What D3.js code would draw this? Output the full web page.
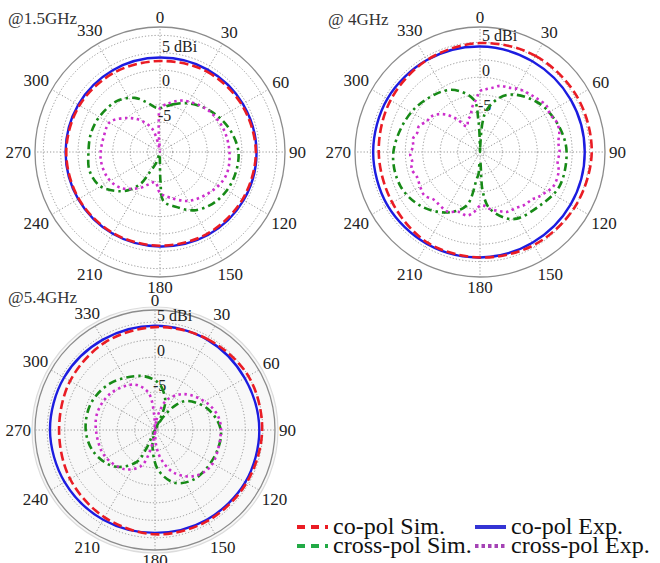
<!DOCTYPE html>
<html>
<head>
<meta charset="utf-8">
<script src="https://cdn.jsdelivr.net/npm/d3@7"></script>
<style>
  body { margin: 0; background: #fff; }
  svg { display: block; }
</style>
</head>
<body>
<svg id="chart" width="660" height="563"></svg>
<script>
// radiation patterns, angle in degrees (clockwise from top), gain in dBi

const angleTicks = [0, 30, 60, 90, 120, 150, 180, 210, 240, 270, 300, 330];
const gainLabels = [-5, 0, 5];
const coAngles   = [0, 30, 60, 90, 120, 150, 180, 210, 240, 270, 300, 330];

// ---- 1.5 GHz ----
const co15Sim = [3.8, 4.1, 4.3, 4.5, 4.4, 4.3, 4.2, 4.2, 4.2, 4.2, 4.1, 3.9];
const co15Exp = [4.3, 4.4, 4.5, 4.6, 4.6, 4.5, 4.3, 4.3, 4.3, 4.3, 4.3, 4.3];
const cross15Sim = [[0,-3.0],[15,-2.2],[30,-1.2],[45,-0.3],[60,0.6],[75,1.4],[90,2.0],[105,2.0],
  [120,1.8],[135,1.3],[150,0.4],[163,-1.0],[176,-2.2],[179,-5.0],[182,-8.6],[190,-9.0],[200,-7.5],
  [207,-6.0],[211,-4.0],[218,-2.5],[225,-1.3],[240,0.6],[255,1.2],[270,1.0],[285,1.0],[300,0.8],
  [320,0.3],[335,-0.7],[345,-1.9],[355,-2.9]];
const cross15Exp = [[0,-3.0],[10,-2.2],[24,-1.2],[47,-0.2],[69,0.4],[90,0.7],[109,0.8],[126,0.1],
  [149,-1.1],[168,-2.6],[180,-3.4],[189,-4.9],[200,-4.3],[209,-3.4],[228,-1.6],[244,-0.9],
  [264,-0.7],[287,-0.9],[301,-0.9],[316,-2.5],[328,-3.9],[341,-5.7],[348,-8.0],[352,-9.2],
  [356,-7.0],[358,-4.5]];

// ---- 4 GHz ----
const co4Sim = [4.9, 5.2, 5.3, 5.3, 5.0, 4.7, 4.4, 4.3, 3.8, 3.8, 4.1, 4.5];
const co4Exp = [4.4, 4.3, 4.3, 4.3, 4.3, 4.3, 4.4, 4.5, 4.6, 4.6, 4.6, 4.5];
const cross4Sim = [[0,-12],[2,-10],[5,-6.4],[9,-4.6],[20,-2.4],[30,-1.2],[45,-0.1],[57,0.6],
  [75,1.3],[90,1.7],[113,1.7],[132,0.8],[154,0.0],[170,-2.4],[176,-5.0],[179,-9.3],[181,-9.3],
  [184,-7.5],[187,-6.8],[194,-2.8],[209,-0.8],[228,0.8],[247,1.7],[270,1.7],[302,0.6],
  [334,-0.8],[353,-3.1],[357,-6.0],[359,-10]];
const cross4Exp = [[0,-2.0],[5,-1.7],[10,-1.4],[17,-0.8],[24,-0.6],[32,-0.1],[40,0.2],[47,0.5],
  [55,0.9],[62,0.7],[69,1.1],[76,1.0],[83,0.6],[90,0.7],[97,0.5],[104,0.9],[115,0.9],[122,0.3],
  [128,-0.2],[132,-0.6],[140,-0.8],[148,-1.2],[156,-1.3],[163,-1.9],[170,-2.4],[176,-3.0],
  [180,-3.0],[186,-2.0],[192,-1.4],[200,-1.6],[208,-1.0],[216,-1.1],[224,-1.2],[232,-0.6],
  [240,-0.8],[248,-1.0],[256,-0.6],[262,-0.9],[268,-0.7],[275,-1.1],[281,-0.9],[287,-1.3],
  [293,-1.2],[300,-1.9],[305,-2.0],[311,-2.5],[318,-3.5],[325,-5.0],[333,-6.6],[340,-5.7],
  [345,-5.4],[350,-4.2],[356,-3.1]];

// ---- 5.4 GHz ----
const co54Sim = [4.3, 4.6, 5.0, 4.9, 4.7, 4.6, 4.5, 4.0, 3.6, 3.3, 3.6, 4.0];
const co54Exp = [4.5, 4.5, 4.4, 4.5, 4.5, 4.4, 4.3, 4.4, 4.5, 4.6, 4.6, 4.5];
const cross54Sim = [[0,-3.3],[8,-4.1],[20,-6.1],[25,-8.7],[28,-11],[32,-8.3],[40,-5.7],[48,-4.2],
  [68,-2.3],[90,-1.0],[114,-1.1],[141,-1.4],[160,-2.4],[176,-4.8],[190,-8.3],[198,-11],
  [205,-7.5],[210,-5.1],[228,-2.6],[250,-1.1],[270,-0.5],[293,-0.5],[317,-1.2],[345,-2.4]];
const cross54Exp = [[2,-11],[8,-9],[15,-7.3],[22,-5.7],[39,-3.8],[63,-2.0],[80,-1.1],[96,-1.0],
  [123,-0.9],[140,-1.8],[156,-3.7],[168,-6.1],[176,-8.3],[181,-11],[186,-9.7],[194,-7.1],
  [201,-4.9],[218,-3.3],[243,-2.3],[268,-2.0],[287,-1.8],[310,-2.2],[336,-3.3],[350,-5.0],
  [357,-8.3]];

const legendNames = ['co-pol Sim.', 'co-pol Exp.', 'cross-pol Sim.', 'cross-pol Exp.'];

const SERIF = 'Liberation Serif';
const STYLE = {
  coSim    : { stroke: '#ea1c24', width: 2.6, dash: '9,4' },
  coExp    : { stroke: '#1c1ce0', width: 2.4, dash: null },
  crossSim : { stroke: '#178a17', width: 2.6, dash: '8,4,2.5,4' },
  crossExp : { stroke: '#cc2ecc', width: 2.6, dash: '2.5,3.5' }
};

const zip = (vals) => coAngles.map((a, i) => [a, vals[i]]);

const panels = [
  { title: '@1.5GHz', tx: 8, ty: 24, cx: 160, cy: 152, R: 125, domain: [-9.3, 8.7], shade: false,
    data: { crossSim: cross15Sim, crossExp: cross15Exp, coExp: zip(co15Exp), coSim: zip(co15Sim) } },
  { title: '@ 4GHz', tx: 328, ty: 25, cx: 480, cy: 152, R: 125, domain: [-10.7, 7.2], shade: false,
    data: { crossSim: cross4Sim, crossExp: cross4Exp, coExp: zip(co4Exp), coSim: zip(co4Sim) } },
  { title: '@5.4GHz', tx: 8, ty: 303, cx: 155, cy: 430, R: 120, domain: [-10.4, 6.74], shade: true,
    data: { crossSim: cross54Sim, crossExp: cross54Exp, coExp: zip(co54Exp), coSim: zip(co54Sim) } }
];

const svg = d3.select('#chart');
svg.append('rect').attr('width', 660).attr('height', 563).attr('fill', '#fff');

panels.forEach(p => {
  const g = svg.append('g').attr('transform', `translate(${p.cx},${p.cy})`);
  const r = d3.scaleLinear().domain(p.domain).range([0, p.R]).clamp(true);

  if (p.shade) {
    g.append('circle').attr('r', p.R + 3).attr('fill', '#f8f8f8')
      .attr('stroke', '#dcdcdc').attr('stroke-width', 1.2);
  }

  // rings every 2.5 dB
  const rings = d3.range(Math.ceil(p.domain[0] / 2.5) * 2.5, p.domain[1] - 0.5, 2.5);
  g.selectAll('circle.ring').data(rings).enter().append('circle')
    .attr('class', 'ring')
    .attr('r', d => r(d))
    .attr('fill', 'none')
    .attr('stroke', '#8a8a8a')
    .attr('stroke-width', 0.9)
    .attr('stroke-dasharray', '1.2,2');

  // spokes
  g.selectAll('line.spoke').data(angleTicks).enter().append('line')
    .attr('class', 'spoke')
    .attr('x1', 0).attr('y1', 0)
    .attr('x2', d => p.R * Math.sin(d * Math.PI / 180))
    .attr('y2', d => -p.R * Math.cos(d * Math.PI / 180))
    .attr('stroke', '#8a8a8a')
    .attr('stroke-width', 0.9)
    .attr('stroke-dasharray', '1.2,2');

  g.append('circle').attr('r', p.R).attr('fill', 'none')
    .attr('stroke', '#8c8c8c').attr('stroke-width', 1.3);

  // angle labels
  const fs = 17;
  g.selectAll('text.ang').data(angleTicks).enter().append('text')
    .attr('class', 'ang')
    .each(function(d) {
      const a = d * Math.PI / 180;
      const hw = String(d).length * fs * 0.25;
      const off = p.R + 4 + hw * Math.abs(Math.sin(a)) + 6 * Math.abs(Math.cos(a));
      d3.select(this)
        .attr('x', off * Math.sin(a))
        .attr('y', -off * Math.cos(a))
        .attr('dy', '0.35em');
    })
    .attr('text-anchor', 'middle')
    .style('font-family', SERIF)
    .attr('font-size', fs)
    .attr('fill', '#222')
    .text(d => d);

  // gain labels
  g.selectAll('text.gain').data(gainLabels).enter().append('text')
    .attr('class', 'gain')
    .attr('x', d => d < 0 ? -2 : 2)
    .attr('y', d => -r(d) - 1)
    .style('font-family', SERIF)
    .attr('font-size', 16)
    .attr('fill', '#222')
    .text(d => d === 5 ? '5 dBi' : d);

  // traces
  const line = d3.lineRadial()
    .angle(d => d[0] * Math.PI / 180)
    .radius(d => r(d[1]))
    .curve(d3.curveCatmullRomClosed.alpha(0.5));

  ['crossSim', 'crossExp', 'coExp', 'coSim'].forEach(k => {
    const s = STYLE[k];
    g.append('path')
      .attr('d', line(p.data[k]))
      .attr('fill', 'none')
      .attr('stroke', s.stroke)
      .attr('stroke-width', s.width)
      .attr('stroke-dasharray', s.dash);
  });

  svg.append('text')
    .attr('x', p.tx).attr('y', p.ty)
    .style('font-family', SERIF)
    .attr('font-size', 17)
    .attr('fill', '#333')
    .text(p.title);
});

// ---------- legend ----------
const legendItems = [
  { name: legendNames[0], x: 297, y: 527, stroke: '#ea1c24', dash: '8,6' },
  { name: legendNames[1], x: 475, y: 527, stroke: '#3434d4', dash: null },
  { name: legendNames[2], x: 297, y: 546, stroke: '#22aa46', dash: '8,6' },
  { name: legendNames[3], x: 475, y: 546, stroke: '#a543b5', dash: '3.5,3' }
];
const lg = svg.append('g').attr('class', 'legend');
legendItems.forEach(it => {
  lg.append('line')
    .attr('x1', it.x).attr('x2', it.x + 31)
    .attr('y1', it.y).attr('y2', it.y)
    .attr('stroke', it.stroke).attr('stroke-width', 4)
    .attr('stroke-dasharray', it.dash);
  lg.append('text')
    .attr('x', it.x + 36).attr('y', it.y + 7)
    .style('font-family', SERIF)
    .attr('font-size', 24)
    .attr('fill', '#111')
    .text(it.name);
});
</script>
</body>
</html>
